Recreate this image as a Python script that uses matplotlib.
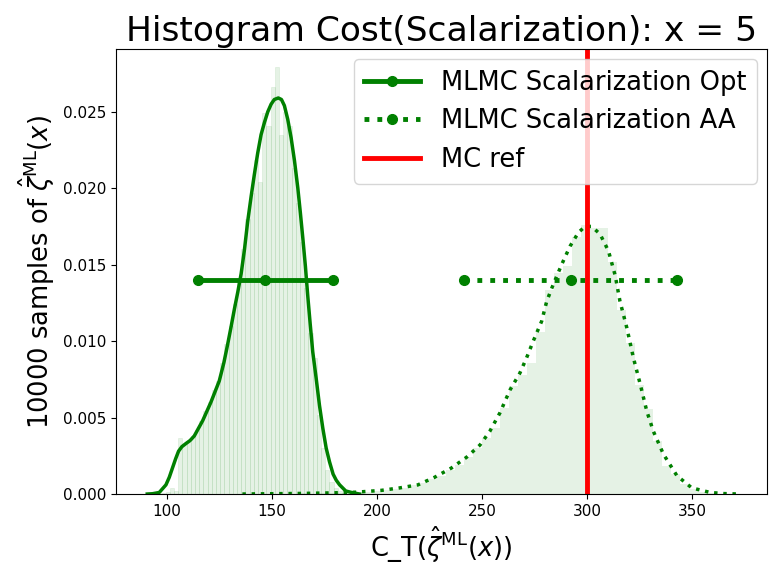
import numpy as np
import matplotlib
matplotlib.use("Agg")
import matplotlib.pyplot as plt

# ---- histogram of the optimal MLMC cost (density per bin) ----
opt_bin_start = 97.2
opt_bin_width = 2.0
opt_density = [
    0.00005, 0.00010, 0.00040, 0.00020, 0.00368, 0.00330, 0.00340, 0.00380,
    0.00420, 0.00480, 0.00540, 0.00600, 0.00680, 0.00740, 0.00860, 0.00980,
    0.01100, 0.01240, 0.01400, 0.01600, 0.01800, 0.01970, 0.02185, 0.02040,
    0.02490, 0.02410, 0.02660, 0.02790, 0.02350, 0.02500, 0.02410, 0.02130,
    0.01900, 0.01650, 0.01350, 0.01050, 0.00890, 0.00520, 0.00300, 0.00160,
    0.00080, 0.00040, 0.00020, 0.00005,
]

# ---- histogram of the AA MLMC cost (density per bin) ----
aa_bin_start = 146.7
aa_bin_width = 4.295
aa_density = [
    0.00002, 0.00000, 0.00002, 0.00000, 0.00005, 0.00002, 0.00005, 0.00007,
    0.00009, 0.00012, 0.00014, 0.00016, 0.00023, 0.00028, 0.00035, 0.00042,
    0.00056, 0.00070, 0.00098, 0.00121, 0.00158, 0.00193, 0.00244, 0.00300,
    0.00366, 0.00433, 0.00563, 0.00705, 0.00780, 0.00860, 0.01060, 0.01336,
    0.01445, 0.01488, 0.01684, 0.01760, 0.01739, 0.01739, 0.01520, 0.01206,
    0.00988, 0.00716, 0.00553, 0.00346, 0.00183, 0.00129, 0.00063, 0.00030,
    0.00012, 0.00005,
]

# ---- kernel density estimates ----
opt_kde_x = [
    90.5, 93.0, 96.2, 99.4, 101.0, 102.5, 104.0, 105.4, 107.0, 108.9, 110.9,
    112.9, 116.9, 120.8, 124.8, 127.0, 128.8, 130.5, 132.0, 133.6, 135.2,
    136.8, 138.3, 140.0, 141.5, 143.1, 144.7, 146.3, 147.9, 149.5, 151.0,
    152.9, 154.4, 155.8, 157.4, 159.0, 160.6, 162.2, 163.4, 164.6, 165.8,
    166.9, 168.1, 169.3, 170.9, 172.5, 174.1, 175.7, 177.3, 179.0, 180.5,
    182.1, 185.0, 188.4, 191.6,
]
opt_kde_y = [
    0.0, 0.00002, 0.0001, 0.0006, 0.0011, 0.0017, 0.0023, 0.0028, 0.0031,
    0.0033, 0.0035, 0.0038, 0.0048, 0.0060, 0.0074, 0.0086, 0.0098, 0.0110,
    0.0121, 0.0132, 0.0144, 0.0160, 0.0178, 0.0195, 0.0209, 0.0223, 0.0235,
    0.0243, 0.0250, 0.0255, 0.0258, 0.0259, 0.0258, 0.0254, 0.0245, 0.0233,
    0.0218, 0.0200, 0.0184, 0.0167, 0.0149, 0.0130, 0.0111, 0.0093, 0.0076,
    0.0058, 0.0043, 0.0030, 0.0021, 0.0013, 0.0009, 0.0006, 0.0002, 0.00008,
    0.0,
]

aa_kde_x = [
    135.8, 150.0, 165.0, 180.0, 190.0, 202.0, 210.7, 219.4, 227.4, 235.3,
    242.5, 248.9, 253.6, 258.4, 263.2, 267.9, 271.1, 274.3, 278.3, 280.7,
    283.8, 287.8, 291.8, 295.8, 299.0, 302.1, 306.1, 310.1, 313.3, 315.6,
    318.8, 322.0, 325.2, 328.4, 331.5, 336.3, 342.7, 349.8, 358.6, 365.0,
    372.1,
]
aa_kde_y = [
    0.0, 0.00002, 0.00004, 0.00008, 0.00012, 0.00024, 0.0004, 0.0006, 0.0011,
    0.0017, 0.0024, 0.0032, 0.0041, 0.0053, 0.0068, 0.0079, 0.0089, 0.0100,
    0.0113, 0.0126, 0.0137, 0.0150, 0.0162, 0.0171, 0.0175, 0.0175, 0.0170,
    0.0159, 0.0143, 0.0126, 0.0109, 0.0089, 0.0072, 0.0054, 0.0041, 0.0026,
    0.0012, 0.0004, 0.0001, 0.00003, 0.0,
]

# ---- mean and spread markers (low, mean, high) ----
opt_spread = [114.5, 146.6, 178.9]
aa_spread = [241.4, 292.1, 342.7]
spread_level = 0.014
mc_ref = 300.0

green = "green"

fig = plt.figure(figsize=(7.7, 5.67), dpi=100)
ax = fig.add_axes([0.1506, 0.1287, 0.8455, 0.7848])

opt_edges = opt_bin_start + opt_bin_width * np.arange(len(opt_density))
aa_edges = aa_bin_start + aa_bin_width * np.arange(len(aa_density))
ax.bar(opt_edges, opt_density, width=opt_bin_width, align="edge",
       color=green, alpha=0.1, linewidth=0.5, edgecolor=green)
ax.bar(aa_edges, aa_density, width=aa_bin_width, align="edge",
       color=green, alpha=0.1, linewidth=0)

ax.plot(opt_kde_x, opt_kde_y, color=green, lw=2.5, solid_joinstyle="round")
ax.plot(aa_kde_x, aa_kde_y, color=green, lw=2.5, ls=":")

ax.plot(opt_spread, [spread_level] * 3, color=green, lw=3.5, marker="o",
        ms=7, label="MLMC Scalarization Opt")
ax.plot(aa_spread, [spread_level] * 3, color=green, lw=3.5, ls=":",
        marker="o", ms=7, label="MLMC Scalarization AA")
ax.axvline(mc_ref, color="red", lw=3.5, label="MC ref")

ax.set_xlim(75.6, 385.6)
ax.set_ylim(0, 0.0291)
ax.set_xticks([100, 150, 200, 250, 300, 350])
ax.set_yticks([0.0, 0.005, 0.010, 0.015, 0.020, 0.025])
ax.yaxis.set_major_formatter(matplotlib.ticker.FormatStrFormatter("%.3f"))
ax.tick_params(labelsize=11)

ax.set_title("Histogram Cost(Scalarization): x = 5", fontsize=24.8)
ax.set_xlabel(r"C_T($\hat{\zeta}^{\mathrm{ML}}(x)$)", fontsize=18.5)
ax.set_ylabel(r"10000 samples of $\hat{\zeta}^{\mathrm{ML}}(x)$", fontsize=18.5)
ax.legend(loc="upper right", fontsize=18.5, handlelength=2.2,
          borderaxespad=0.4)

fig.savefig("out.png", dpi=100)
